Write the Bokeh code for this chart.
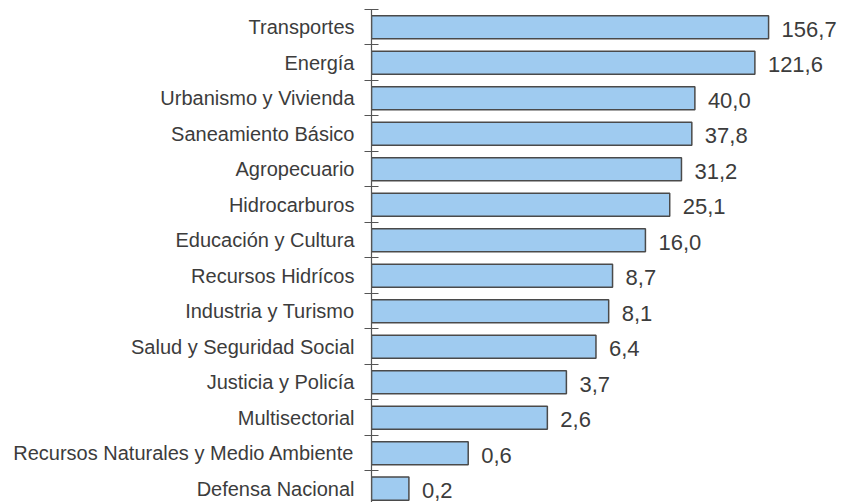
from bokeh.plotting import figure
from bokeh.models import ColumnDataSource, FixedTicker, Range1d
from bokeh.core.properties import value
from bokeh.embed import file_html
from bokeh.resources import INLINE

categories = [
    "Transportes", "Energía", "Urbanismo y Vivienda", "Saneamiento Básico",
    "Agropecuario", "Hidrocarburos", "Educación y Cultura", "Recursos Hidrícos",
    "Industria y Turismo", "Salud y Seguridad Social", "Justicia y Policía",
    "Multisectorial", "Recursos Naturales y Medio Ambiente", "Defensa Nacional",
]
values = [156.7, 121.6, 40.0, 37.8, 31.2, 25.1, 16.0, 8.7, 8.1, 6.4, 3.7, 2.6, 0.6, 0.2]
value_labels = [f"{v:.1f}".replace(".", ",") for v in values]

n = len(categories)
ypos = [n - 1 - i for i in range(n)]
base = 0.1

src = ColumnDataSource(dict(y=ypos, right=values, left=[base] * n, lab=value_labels))

p = figure(width=840, height=502, output_backend="svg", toolbar_location=None,
           x_axis_type="log", x_range=Range1d(base, 594),
           y_range=Range1d(-0.39, n - 0.5),
           min_border_left=371, min_border_right=0, min_border_top=9, min_border_bottom=0)
p.outline_line_color = None
p.background_fill_color = "white"
p.xgrid.visible = False
p.ygrid.visible = False
p.xaxis.visible = False

p.hbar(y="y", left="left", right="right", height=0.65, source=src,
       fill_color="#9fcbf0", line_color="#4a4a4a", line_width=1.5)

p.text(x="right", y="y", text="lab", source=src, x_offset=13, y_offset=2,
       text_font=value("Liberation Sans"), text_font_size="22px",
       text_color="#3c3c3c", text_baseline="middle", text_align="left")

ax = p.yaxis[0]
ax.ticker = FixedTicker(ticks=ypos, minor_ticks=[k - 0.5 for k in range(n + 1)])
ax.major_label_overrides = {yv: c for yv, c in zip(ypos, categories)}
ax.major_tick_line_color = None
ax.major_tick_in = 0
ax.major_tick_out = 0
ax.minor_tick_in = 7
ax.minor_tick_out = 7
ax.minor_tick_line_color = "#555555"
ax.minor_tick_line_width = 1.2
ax.axis_line_color = "#555555"
ax.axis_line_width = 1.2
ax.major_label_standoff = 10
ax.major_label_text_font = "Liberation Sans"
ax.major_label_text_font_size = "20px"
ax.major_label_text_color = "#3c3c3c"

open("out.html", "w").write(file_html(p, INLINE))
